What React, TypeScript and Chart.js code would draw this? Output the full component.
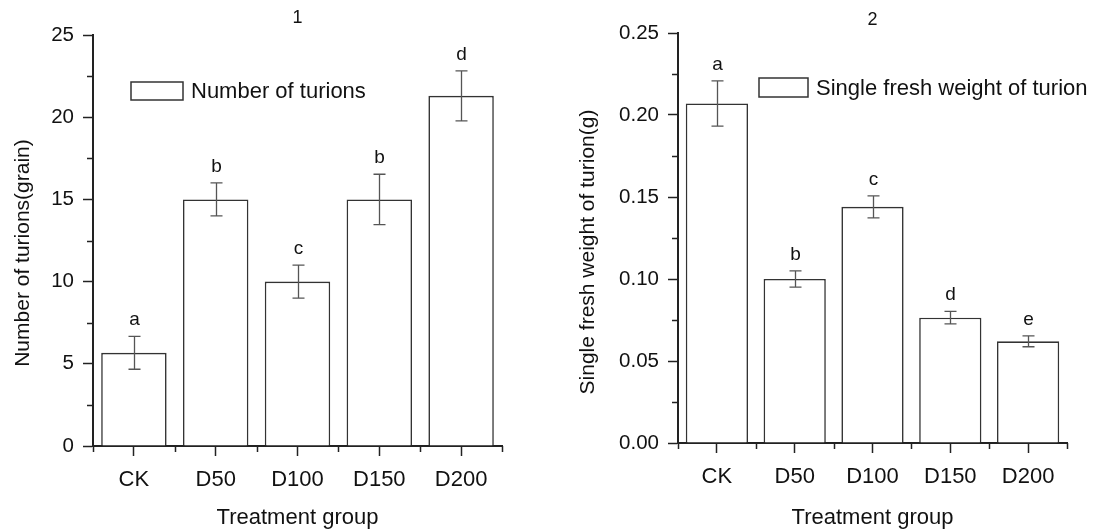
import React, { useEffect, useRef } from 'react';
import { Chart, registerables } from 'chart.js';

Chart.register(...registerables);

const categories = ['CK', 'D50', 'D100', 'D150', 'D200'];

const turionNumber = [5.67, 15.0, 10.0, 15.0, 21.3];
const turionNumberErr = [1.0, 1.0, 1.0, 1.53, 1.52];
const turionNumberLetters = ['a', 'b', 'c', 'b', 'd'];

const freshWeight = [0.207, 0.1, 0.144, 0.0764, 0.062];
const freshWeightErr = [0.0138, 0.005, 0.0067, 0.0038, 0.0033];
const freshWeightLetters = ['a', 'b', 'c', 'd', 'e'];

const FONT = "'Liberation Sans', Arial, Helvetica, sans-serif";
const INK = '#111';
const AXIS = '#222';
const HEIGHT = 531;

type Area = { left: number; top: number; right: number; bottom: number };

type PanelSpec = {
  title: string;
  legend: string;
  yTitle: string;
  xTitle: string;
  values: number[];
  errors: number[];
  letters: string[];
  yMax: number;
  yStep: number;
  decimals: number;
  width: number;
  area: Area;
  legendBox: { dx: number; dy: number; w: number; h: number };
  yTitlePos: { x: number; y: number };
  titleY: number;
};

const makeAnnotations = (spec: PanelSpec) => ({
  id: 'annotations',
  afterDatasetsDraw(chart: any) {
    const ctx = chart.ctx as CanvasRenderingContext2D;
    const xs = chart.scales.x;
    const ys = chart.scales.y;
    const area = chart.chartArea;
    ctx.save();

    // error bars and significance letters
    spec.values.forEach((v, i) => {
      const px = Math.round(xs.getPixelForValue(i)) + 0.5;
      const top = ys.getPixelForValue(v + spec.errors[i]);
      const bot = ys.getPixelForValue(v - spec.errors[i]);
      ctx.strokeStyle = '#555';
      ctx.lineWidth = 1.3;
      ctx.beginPath();
      ctx.moveTo(px, top);
      ctx.lineTo(px, bot);
      ctx.moveTo(px - 6, top);
      ctx.lineTo(px + 6, top);
      ctx.moveTo(px - 6, bot);
      ctx.lineTo(px + 6, bot);
      ctx.stroke();
      ctx.fillStyle = INK;
      ctx.font = `19px ${FONT}`;
      ctx.textAlign = 'center';
      ctx.textBaseline = 'alphabetic';
      ctx.fillText(spec.letters[i], px, top - 11);
    });

    // minor ticks
    ctx.strokeStyle = AXIS;
    ctx.lineWidth = 1.5;
    ctx.beginPath();
    for (let v = spec.yStep / 2; v < spec.yMax; v += spec.yStep) {
      const py = Math.round(ys.getPixelForValue(v)) + 0.5;
      ctx.moveTo(area.left - 6, py);
      ctx.lineTo(area.left, py);
    }
    for (let i = 0; i <= spec.values.length; i++) {
      const px = Math.round(xs.getPixelForValue(i - 0.5)) + 0.5;
      ctx.moveTo(px, area.bottom);
      ctx.lineTo(px, area.bottom + 6);
    }
    ctx.stroke();

    // panel title
    ctx.fillStyle = INK;
    ctx.font = `18px ${FONT}`;
    ctx.textAlign = 'center';
    ctx.textBaseline = 'middle';
    ctx.fillText(spec.title, (area.left + area.right) / 2, spec.titleY);

    // legend
    const lb = spec.legendBox;
    const bx = area.left + lb.dx;
    const by = area.top + lb.dy;
    ctx.fillStyle = '#fff';
    ctx.fillRect(bx, by, lb.w, lb.h);
    ctx.strokeStyle = '#333';
    ctx.lineWidth = 1.5;
    ctx.strokeRect(bx, by, lb.w, lb.h);
    ctx.fillStyle = INK;
    ctx.font = `22px ${FONT}`;
    ctx.textAlign = 'left';
    ctx.textBaseline = 'middle';
    ctx.fillText(spec.legend, bx + lb.w + 8, by + lb.h / 2 + 1);

    // y axis title
    ctx.save();
    ctx.translate(spec.yTitlePos.x, spec.yTitlePos.y);
    ctx.rotate(-Math.PI / 2);
    ctx.font = `21px ${FONT}`;
    ctx.textAlign = 'center';
    ctx.textBaseline = 'middle';
    ctx.fillStyle = INK;
    ctx.fillText(spec.yTitle, 0, 0);
    ctx.restore();

    ctx.restore();
  },
});

function Panel({ spec, left }: { spec: PanelSpec; left: number }) {
  const ref = useRef<HTMLCanvasElement | null>(null);
  useEffect(() => {
    if (!ref.current) return;
    const area = spec.area;
    const chart = new Chart(ref.current, {
      type: 'bar',
      data: {
        labels: categories,
        datasets: [
          {
            label: spec.legend,
            data: spec.values,
            backgroundColor: '#ffffff',
            borderColor: '#333',
            borderWidth: 1.6,
            barPercentage: 0.8,
            categoryPercentage: 1.0,
          },
        ],
      },
      options: {
        responsive: false,
        animation: false,
        devicePixelRatio: 1,
        layout: {
          padding: { top: area.top, right: spec.width - area.right, left: 0, bottom: 0 },
        },
        plugins: {
          legend: { display: false },
          tooltip: { enabled: false },
          title: { display: false },
        },
        scales: {
          x: {
            offset: true,
            grid: {
              display: true,
              drawOnChartArea: false,
              drawTicks: true,
              tickLength: 10,
              tickWidth: 1.5,
              tickColor: AXIS,
              offset: false,
            },
            border: { display: true, color: AXIS, width: 2 },
            ticks: {
              color: INK,
              font: { family: FONT, size: 22 },
              padding: 11,
              maxRotation: 0,
              autoSkip: false,
            },
            title: {
              display: true,
              text: spec.xTitle,
              color: INK,
              font: { family: FONT, size: 22 },
              padding: { top: 0, bottom: 0 },
            },
            afterFit: (s: any) => {
              s.height = HEIGHT - area.bottom;
            },
          },
          y: {
            min: 0,
            max: spec.yMax,
            grid: {
              display: true,
              drawOnChartArea: false,
              drawTicks: true,
              tickLength: 10,
              tickWidth: 1.5,
              tickColor: AXIS,
            },
            border: { display: true, color: AXIS, width: 2 },
            ticks: {
              stepSize: spec.yStep,
              color: INK,
              font: { family: FONT, size: 20.5 },
              padding: 9,
              callback: (v: any) => Number(v).toFixed(spec.decimals),
            },
            afterFit: (s: any) => {
              s.width = area.left;
            },
          },
        },
      },
      plugins: [makeAnnotations(spec)],
    } as any);
    return () => chart.destroy();
  }, [spec]);
  return (
    <canvas
      ref={ref}
      width={spec.width}
      height={HEIGHT}
      style={{ position: 'absolute', left, top: 0, width: spec.width, height: HEIGHT }}
    />
  );
}

const leftSpec: PanelSpec = {
  title: '1',
  legend: 'Number of turions',
  yTitle: 'Number of turions(grain)',
  xTitle: 'Treatment group',
  values: turionNumber,
  errors: turionNumberErr,
  letters: turionNumberLetters,
  yMax: 25,
  yStep: 5,
  decimals: 0,
  width: 545,
  area: { left: 93, top: 35, right: 502, bottom: 446 },
  legendBox: { dx: 38, dy: 47, w: 52, h: 18 },
  yTitlePos: { x: 23, y: 253 },
  titleY: 18,
};

const rightSpec: PanelSpec = {
  title: '2',
  legend: 'Single fresh weight of turion',
  yTitle: 'Single fresh weight of turion(g)',
  xTitle: 'Treatment group',
  values: freshWeight,
  errors: freshWeightErr,
  letters: freshWeightLetters,
  yMax: 0.25,
  yStep: 0.05,
  decimals: 2,
  width: 573,
  area: { left: 133, top: 33, right: 522, bottom: 443 },
  legendBox: { dx: 81, dy: 45, w: 49, h: 19 },
  yTitlePos: { x: 43, y: 252 },
  titleY: 20,
};

export default function App() {
  return (
    <div
      style={{
        position: 'absolute',
        left: 0,
        top: 0,
        width: 1118,
        height: HEIGHT,
        background: '#fff',
        overflow: 'hidden',
      }}
    >
      <Panel spec={leftSpec} left={0} />
      <Panel spec={rightSpec} left={545} />
    </div>
  );
}
